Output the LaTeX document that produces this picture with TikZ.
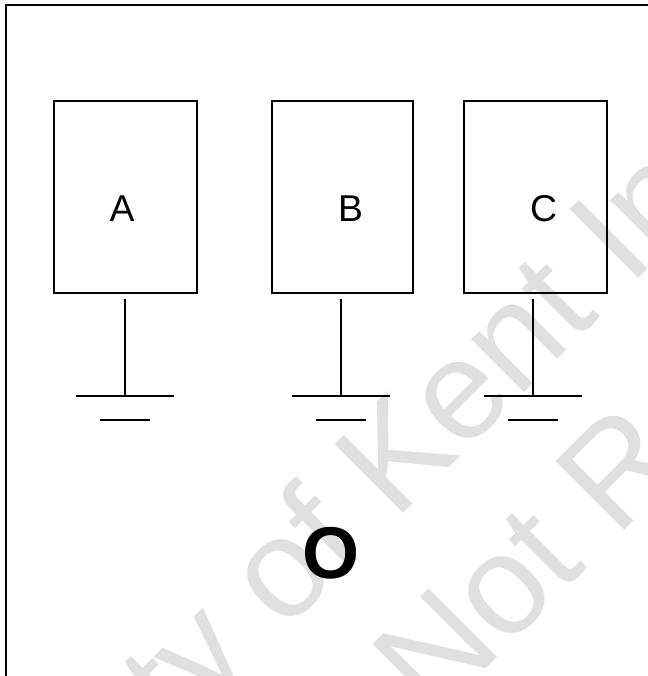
\documentclass[tikz,border=0pt]{standalone}
\usepackage{fontspec}
\setmainfont{Liberation Sans}
\definecolor{wm}{HTML}{E0E0E0}
\tikzset{
  unitbox/.style={draw=black,line width=1.1pt,rectangle,inner sep=0pt,minimum height=144pt},
  lab/.style={font=\fontsize{28}{30}\selectfont,anchor=base,inner sep=0pt},
  big/.style={font=\bfseries\fontsize{55}{60}\selectfont,anchor=base,inner sep=0pt},
  wire/.style={line width=1.1pt,black},
  wmark/.style={font=\fontsize{106}{110}\selectfont,text=wm,anchor=base west,rotate=45,inner sep=0pt}
}
\begin{document}
\begin{tikzpicture}[x=0.75pt,y=-0.75pt]
\useasboundingbox (0,0) rectangle (648,676);
\clip (0,0) rectangle (648,676);
\fill[white] (0,0) rectangle (648,676);
\node[wmark] (w1) at (179,738) {ty of Kent In};
\node[wmark] (w2) at (433,722) {Not Re};
\draw[line width=1.5pt] (6,690) -- (6,5) -- (660,5);
\node[unitbox,minimum width=107.25pt] (A) at (125.5,197) {};
\node[unitbox,minimum width=105.75pt] (B) at (342.5,197) {};
\node[unitbox,minimum width=107.25pt] (C) at (535.5,197) {};
\node[lab] (la) at (122,221) {A};
\node[lab] (lb) at (350.5,221) {B};
\node[lab] (lc) at (543.5,221) {C};
\node[big] (O) at (331,578) {O};
\foreach \n/\x in {a/125,b/341,c/533}{
  \coordinate (s\n) at (\x,299);
  \coordinate (g\n) at (\x,396);
  \coordinate (g\n l) at (\x-49,396);
  \coordinate (g\n r) at (\x+49,396);
  \coordinate (h\n l) at (\x-25,420);
  \coordinate (h\n r) at (\x+25,420);
  \draw[wire] (s\n) -- (g\n);
  \draw[wire] (g\n l) -- (g\n r);
  \draw[wire] (h\n l) -- (h\n r);
}
\end{tikzpicture}
\end{document}
